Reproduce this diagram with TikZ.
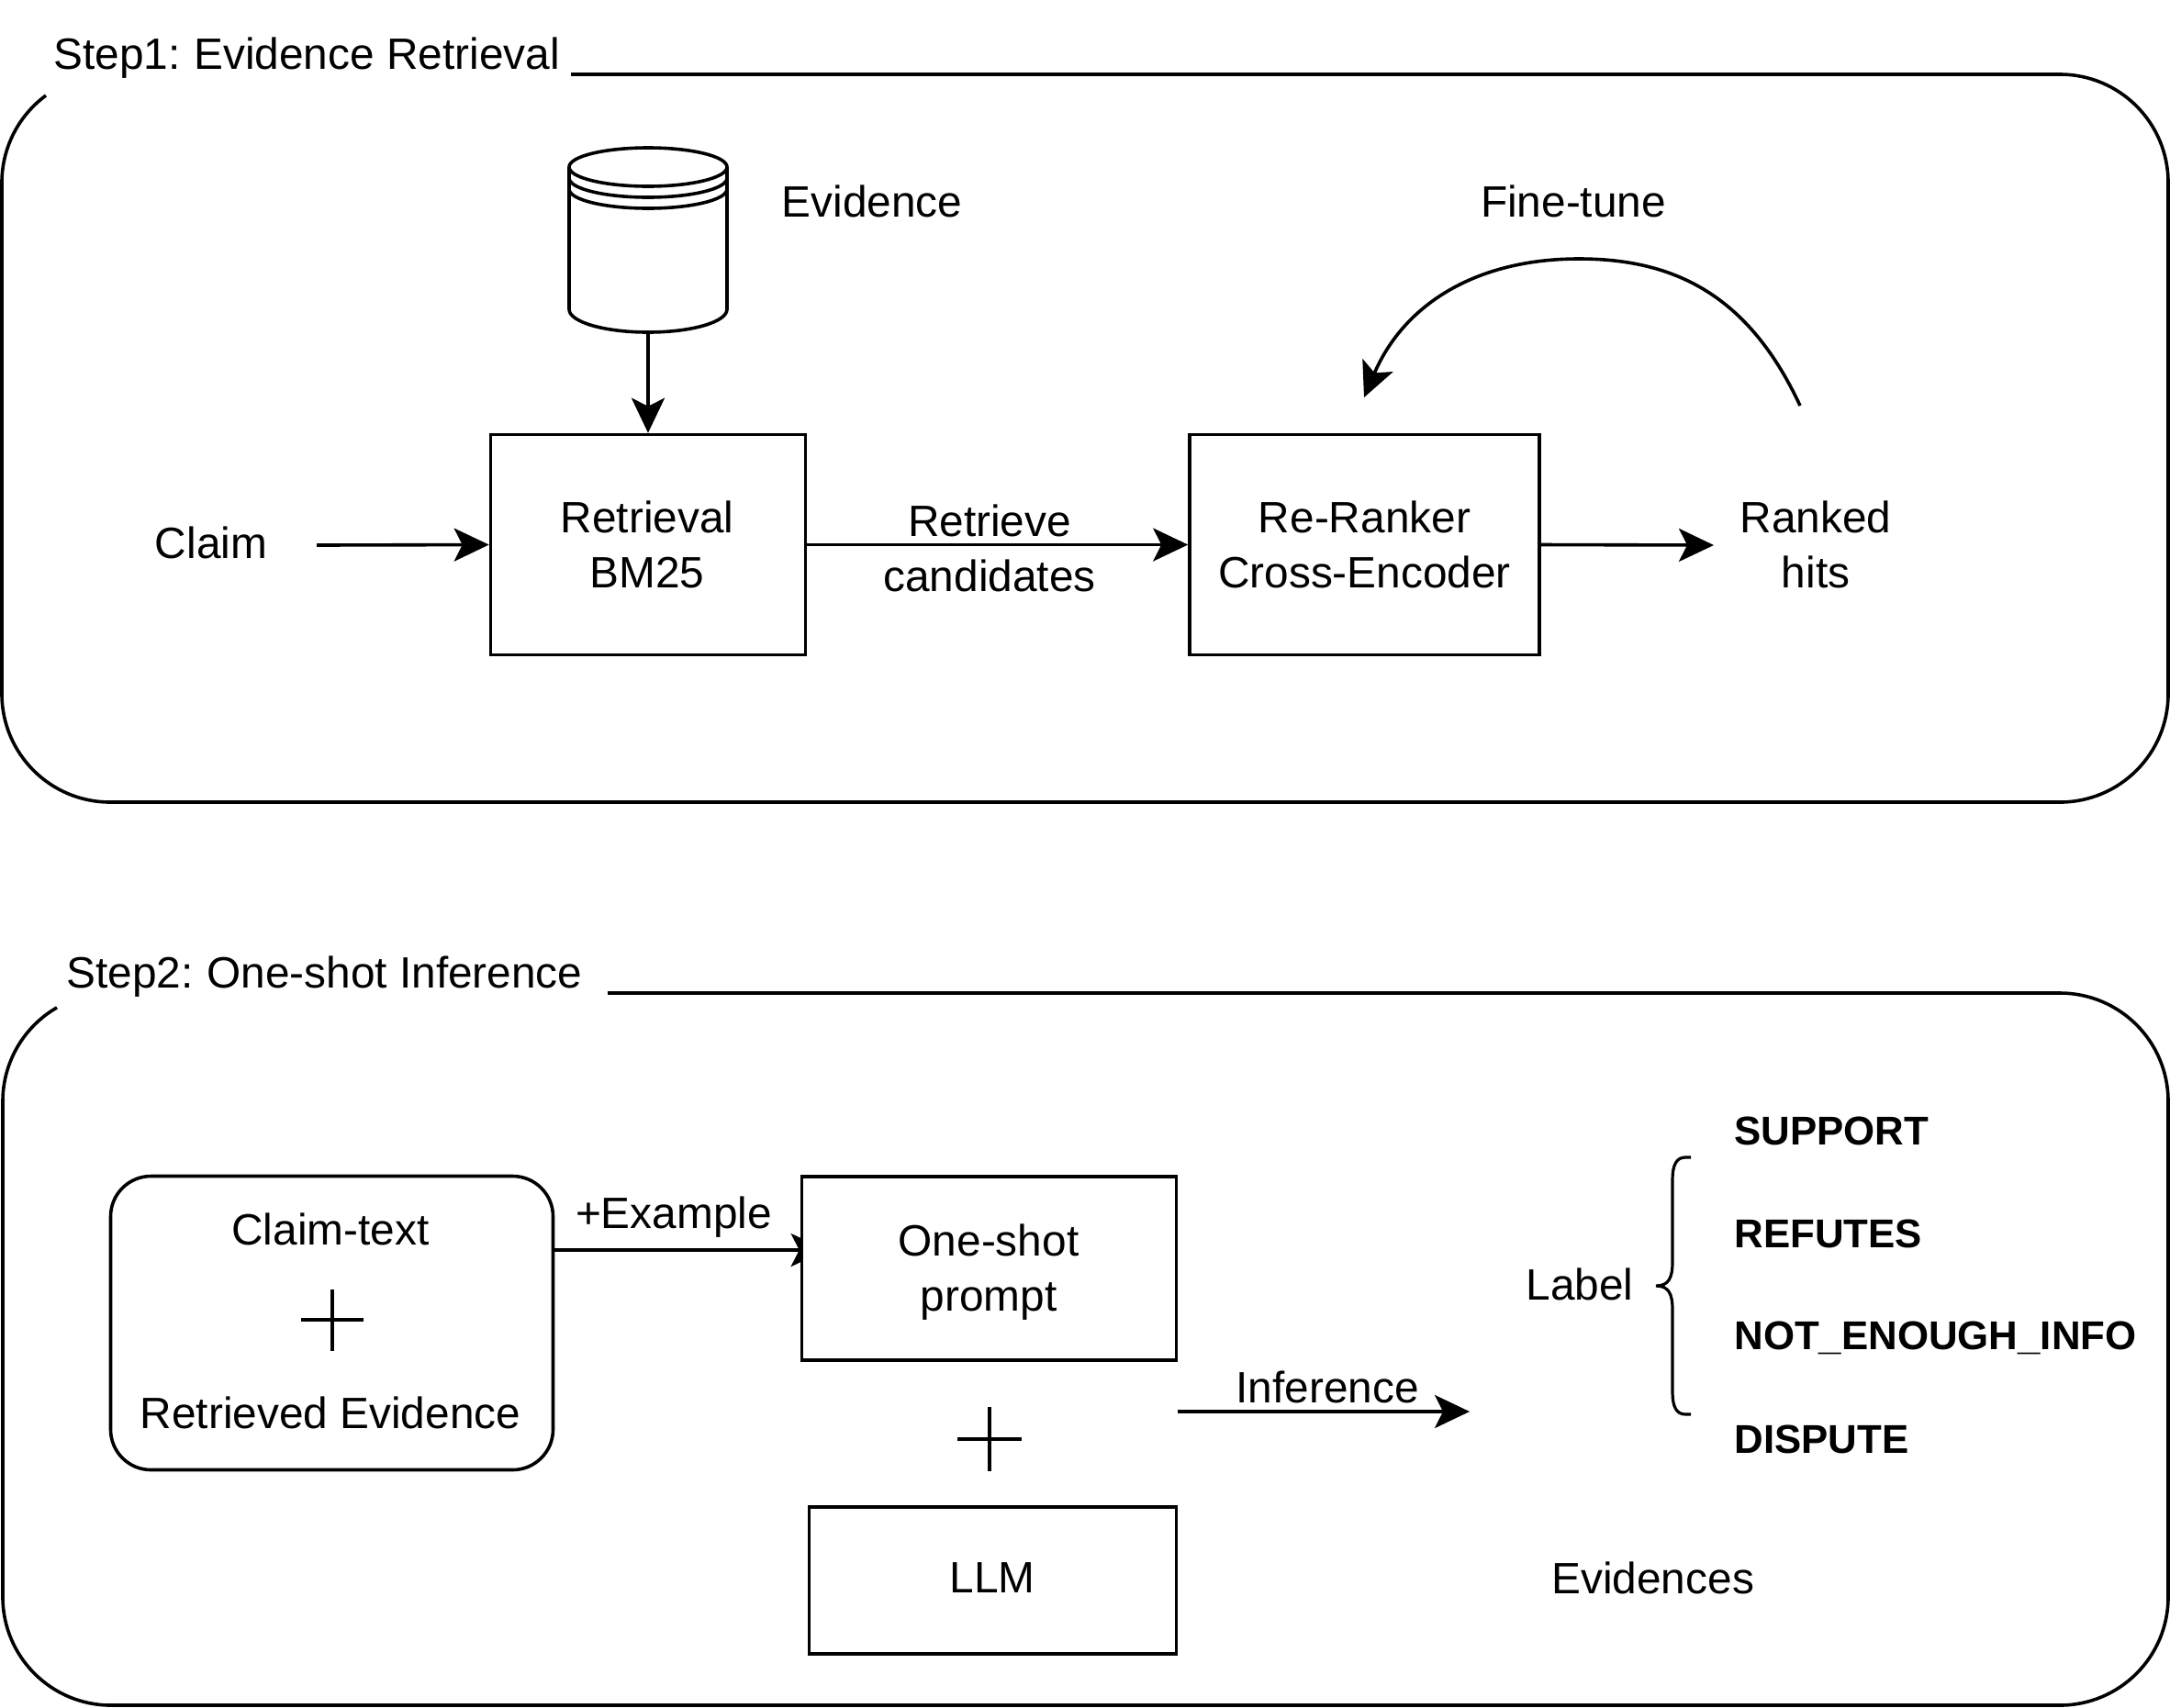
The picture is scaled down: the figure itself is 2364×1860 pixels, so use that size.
\documentclass[tikz,border=0pt]{standalone}
\usepackage{fontspec}
\setmainfont{Liberation Sans}
\usetikzlibrary{arrows.meta,backgrounds}
\tikzset{
  stroke/.style={line width=1.8pt,draw=black},
  conn/.style={stroke,-{Stealth[length=19pt,width=18pt,inset=4.5pt]}},
  panel/.style={stroke,line cap=butt},
  boxnode/.style={stroke,fill=white,rectangle,inner sep=0pt,align=center},
  txt/.style={inner sep=0pt,align=center},
  ltxt/.style={inner sep=0pt,anchor=west},
  blbl/.style={inner sep=0pt,anchor=west,font=\fontsize{21.9}{30}\selectfont\bfseries},
}
\begin{document}
\begin{tikzpicture}[x=0.5pt,y=-0.5pt,font=\fontsize{23.9}{30}\selectfont]
\useasboundingbox (0,0) rectangle (2364,1860);
% panels
\draw[panel] (622,81) -- (2244,81) arc[start angle=90,end angle=0,radius=59pt] -- (2362,756) arc[start angle=0,end angle=-90,radius=59pt] -- (120,874) arc[start angle=270,end angle=180,radius=59pt] -- (2,199) arc[start angle=180,end angle=126.4,radius=59pt];
\draw[panel] (662,1082) -- (2244,1082) arc[start angle=90,end angle=0,radius=59pt] -- (2362,1740) arc[start angle=0,end angle=-90,radius=59pt] -- (121,1858) arc[start angle=270,end angle=180,radius=59pt] -- (3,1200) arc[start angle=180,end angle=120,radius=59pt];
\node[ltxt] (step1) at (58,63) {Step1:\hspace{-1.5pt} Evidence Retrieval};
\node[ltxt] (step2) at (72,1064) {Step2:\hspace{-1.5pt} One-shot Inference};
% cylinder
\node[inner sep=0pt,minimum width=86pt,minimum height=100.5pt] (db) at (706,261.5) {};
\draw[stroke] (620,182) arc[start angle=180,end angle=0,x radius=43pt,y radius=10.5pt] -- (792,337) arc[start angle=0,end angle=-180,x radius=43pt,y radius=12.5pt] -- cycle;
\draw[stroke] (620,182) arc[start angle=180,end angle=360,x radius=43pt,y radius=10.5pt];
\draw[stroke] (620,194) arc[start angle=180,end angle=360,x radius=43pt,y radius=10.5pt];
\draw[stroke] (620,206) arc[start angle=180,end angle=360,x radius=43pt,y radius=10.5pt];
\node[txt] (evid) at (950,219) {Evidence};
% step 1 boxes
\node[boxnode,minimum width=171.5pt,minimum height=120pt] (retr) at (706,593.5) {};
\node[txt] (retrtxt) at (705,593.5) {Retrieval\\BM25};
\node[boxnode,minimum width=190.5pt,minimum height=120pt] (rerank) at (1486.5,593.5) {Re-Ranker\\Cross-Encoder};
\node[txt] (claim) at (230,591) {Claim};
\node[txt] (cand) at (1078,597) {Retrieve\\candidates};
\node[txt] (hits) at (1978,593) {Ranked\\hits};
\node[txt] (fine) at (1714,219) {Fine-tune};
\coordinate (claimout) at (345,594);
\coordinate (hitsin) at (1867,594);
\coordinate (fineA) at (1961,442);
\coordinate (fineB) at (1720,282);
\coordinate (fineC) at (1486,433);
\draw[conn] (db.south) -- (retr.north);
\draw[conn] (claimout) -- (retr.west);
\draw[conn] (retr.east) -- (rerank.west);
\draw[conn] (rerank.east) -- (hitsin);
\draw[conn] (fineA) .. controls (1905,322) and (1825,282) .. (fineB) .. controls (1610,282) and (1530,330) .. (fineC);
% step 2 boxes
\node[boxnode,rounded corners=22pt,minimum width=241pt,minimum height=160pt] (input) at (361.5,1441.5) {};
\node[txt] (ctext) at (360,1339) {Claim-text};
\node[txt] (revid) at (360,1539) {Retrieved Evidence};
\draw[stroke,line width=1.6pt] (328,1438) -- (396,1438) (362,1405) -- (362,1472);
\node[boxnode,minimum width=204pt,minimum height=100pt] (prompt) at (1077.5,1382) {};
\node[txt] (prompttxt) at (1077,1386) {One-shot\\prompt};
\node[boxnode,minimum width=200pt,minimum height=80pt] (llm) at (1081.5,1722) {};
\node[txt] (llmtxt) at (1081,1719) {LLM};
\draw[stroke,line width=1.6pt] (1043,1568) -- (1113,1568) (1078,1533) -- (1078,1603);
\coordinate (exy) at (0,1362);
\begin{scope}[on background layer]
\draw[conn,shorten >=-14pt] (input.east |- exy) -- (prompt.west |- exy);
\end{scope}
\node[txt] (exlbl) at (734,1326) {+Example};
\coordinate (infy) at (0,1538);
\coordinate (infend) at (1601,1538);
\draw[conn] (prompt.east |- infy) -- (infend);
\node[txt] (inflbl) at (1446,1511) {Inference};
% labels
\node[ltxt] (label) at (1662,1399) {Label};
\node[ltxt] (evs) at (1690,1719) {Evidences};
\node[blbl] (l1) at (1889,1232) {SUPPORT};
\node[blbl] (l2) at (1889,1344) {REFUTES};
\node[blbl] (l3) at (1889,1458) {NOT\_ENOUGH\_INFO};
\node[blbl] (l4) at (1889,1568) {DISPUTE};
\draw[stroke,line width=1.6pt] (1842,1261) -- (1836,1261) .. controls (1826,1261) and (1822,1270) .. (1822,1285) -- (1822,1375) .. controls (1822,1392) and (1818,1401) .. (1804,1401) .. controls (1818,1401) and (1822,1410) .. (1822,1427) -- (1822,1517) .. controls (1822,1532) and (1826,1541) .. (1836,1541) -- (1842,1541);
\end{tikzpicture}
\end{document}
